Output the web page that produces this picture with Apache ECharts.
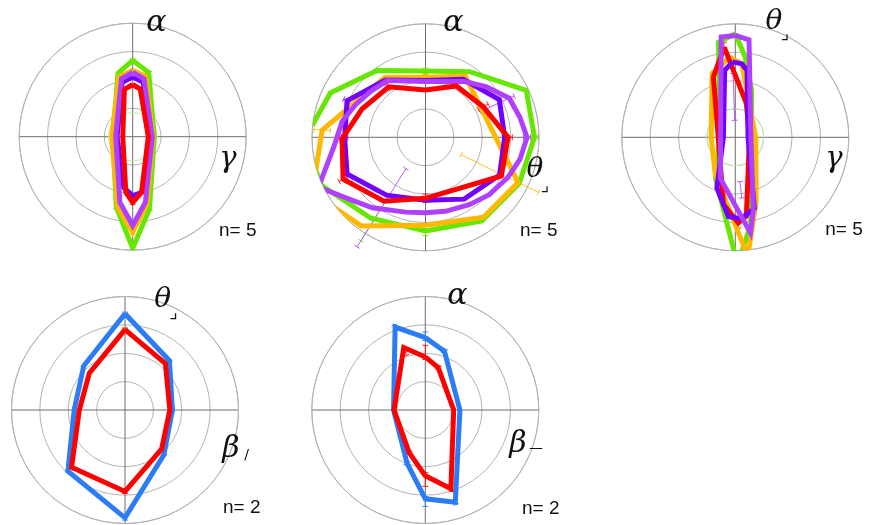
<!DOCTYPE html>
<html>
<head>
<meta charset="utf-8">
<script src="https://cdn.jsdelivr.net/npm/echarts@6/dist/echarts.min.js"></script>
<style>
  html, body { margin: 0; padding: 0; background: #fff; width: 869px; height: 525px; overflow: hidden; }
  .panel { position: absolute; overflow: hidden; }
</style>
</head>
<body>
<div id="p1" class="panel" style="left:0px;top:0px;width:290px;height:252px"></div>
<div id="p2" class="panel" style="left:290px;top:0px;width:290px;height:252px"></div>
<div id="p3" class="panel" style="left:580px;top:0px;width:289px;height:252px"></div>
<div id="p4" class="panel" style="left:0px;top:262px;width:290px;height:263px"></div>
<div id="p5" class="panel" style="left:290px;top:262px;width:290px;height:263px"></div>
<script>
// Tuning curves: each vertex is [direction in degrees (clockwise from the upper axis), response]
// ---- top-left: alpha / gamma, n = 5 ----
const p1Green  = [[0,2.69],[14,2.33],[90,0.76],[167,2.62],[180,3.93],[193,2.56],[270,0.70],[347,2.30]];
const p1Orange = [[0,2.34],[12,2.18],[90,0.72],[168,2.42],[180,3.37],[192,2.55],[270,0.74],[347,2.16]];
const p1Violet = [[0,2.10],[11,1.95],[90,0.60],[170,1.98],[180,2.08],[190,1.82],[270,0.55],[349,1.95]];
const p1Purple = [[0,2.27],[11,2.08],[90,0.69],[169,2.35],[180,3.13],[191,2.36],[270,0.60],[349,2.08]];
const p1Red    = [[0,1.84],[9,1.70],[90,0.55],[171,1.99],[180,2.32],[187,1.98],[270,0.35],[350,1.69]];

// ---- top-middle: alpha / theta, n = 5 (green has no value at 270) ----
const p2Green  = [[276,4.01],[295,3.70],[324,2.91],[0,2.34],[34,2.79],[65,3.92],[90,3.84],[116,3.68],[146,3.55],[180,3.30],[214,3.44],[245,4.03],[258,4.08]];
const p2Orange = [[0,2.12],[33,2.57],[116,3.63],[144,3.48],[180,3.10],[216,3.86],[244,4.44],[274,3.65],[326,2.55]];
const p2Violet = [[0,2.00],[33,2.44],[63,2.92],[90,2.79],[117,2.93],[148,2.57],[180,2.22],[214,2.46],[245,3.05],[270,2.85],[295,3.05],[325,2.46]];
const p2Purple = [[0,1.97],[35,2.40],[50,2.78],[65,3.26],[78,3.40],[90,3.58],[103,3.42],[116,3.23],[132,3.02],[147,2.83],[165,2.70],[180,2.66],[195,2.73],[217,3.11],[232,3.50],[245,4.16],[264,3.25],[281,2.99],[295,2.72],[310,2.52],[326,2.41]];
const p2Red    = [[0,1.67],[31,2.11],[62,2.30],[90,2.91],[117,3.00],[180,2.15],[213,2.69],[243,3.26],[269,2.94],[294,2.45],[324,2.20]];

// ---- top-right: theta / gamma, n = 5 ----
const p3Green  = [[0,3.65],[7,2.85],[19,1.76],[90,0.58],[170,3.12],[179,4.48],[206,1.60],[270,0.55],[350,3.40]];
const p3Orange = [[356,2.83],[5,2.60],[90,0.72],[162,2.38],[174,4.22],[208,1.50],[270,0.85],[340,2.39]];
const p3Red    = [[353,3.20],[18,1.26],[90,0.50],[172,2.80],[178,3.02],[190,2.40],[270,0.60],[340,2.26]];
const p3Violet = [[358,2.66],[5,2.60],[10,2.39],[90,0.45],[165,2.60],[176,2.88],[185,2.80],[200,1.90],[270,0.42],[351,2.39]];
const p3Purple = [[0,3.59],[8,3.47],[90,0.55],[166,2.63],[171,3.41],[200,1.54],[270,0.52],[352,3.57]];

// ---- bottom-left: theta / beta, n = 2 ----
const p4Blue = [[0,3.39],[42,2.34],[90,1.67],[139,2.09],[180,3.80],[223,2.95],[270,1.79],[317,2.13]];
const p4Red  = [[0,2.83],[41,2.17],[90,1.58],[137,1.89],[180,2.87],[223,2.76],[270,1.61],[316,1.81]];

// ---- bottom-middle: alpha / beta, n = 2 ----
const p5Blue = [[0,2.55],[18,2.18],[90,1.22],[162,3.42],[180,3.13],[199,1.98],[270,1.12],[340,3.11]];
const p5Red  = [[0,1.87],[17,1.56],[90,1.00],[162,2.92],[180,2.32],[201,1.60],[270,1.10],[341,2.33]];

// Error bars: [direction, low, high]
const p1GreenErr  = [[0,2.62,2.76],[14,2.27,2.39],[167,2.55,2.69],[193,2.50,2.62]];
const p1OrangeErr = [[180,3.30,3.44],[12,2.12,2.24]];
const p1RedErr    = [[180,2.26,2.38]];
const p2GreenErr  = [[0,2.24,2.44],[324,2.84,2.98],[180,3.12,3.46],[212,2.40,4.30],[90,3.72,3.96]];
const p2OrangeErr = [[116,1.40,4.43],[274,3.36,3.94],[0,2.02,2.22]];
const p2PurpleErr = [[212,1.30,4.55],[65,2.12,3.45],[90,3.45,3.70]];
const p2VioletErr = [[270,2.74,2.96],[295,2.94,3.18]];
const p2RedErr    = [[62,2.10,2.50],[90,2.76,3.06],[243,3.10,3.42],[269,2.84,3.04],[180,2.00,2.30],[324,2.08,2.32]];
const p3PurpleErr = [[358,0.60,2.25],[174,1.57,2.15],[166,1.86,2.43]];
const p3RedErr    = [[353,3.00,3.35],[178,2.85,3.20]];
const p4BlueErr   = [[0,3.33,3.45],[42,2.28,2.40],[90,1.61,1.73],[139,2.03,2.15],[180,3.72,3.88],[223,2.88,3.02],[270,1.73,1.85],[317,2.07,2.19]];
const p4RedErr    = [[0,2.77,2.89],[41,2.11,2.23],[137,1.83,1.95],[180,2.80,2.94],[223,2.70,2.82]];
const p5BlueErr   = [[0,2.45,2.75],[18,2.10,2.26],[162,3.34,3.50],[180,3.05,3.40],[199,1.90,2.06],[340,3.03,3.19]];
const p5RedErr    = [[0,1.78,2.28],[17,1.48,1.64],[162,2.84,3.00],[180,2.20,2.69],[201,1.52,1.68],[341,2.04,2.15]];

// Faint reference circle radius (panels with a baseline ring)
const p1Baseline = 0.85;
const p3Baseline = 1.0;

const GREEN = '#66e600', ORANGE = '#ffb800', VIOLET = '#7300ff', PURPLE = '#b040ff', RED = '#ff0000', BLUE = '#2b7cf6';

function closed(pts) {
  const d = pts.map(([a, r]) => [r, a]);
  d.push(d[0]);
  return d;
}
function open(pts) {
  return pts.map(([a, r]) => [r, a]);
}
function curve(data, color) {
  return {
    type: 'line', coordinateSystem: 'polar', data: data, symbol: 'none', clip: false,
    silent: true, animation: false,
    lineStyle: { color: color, width: 5, join: 'miter', miterLimit: 6 }
  };
}
function errorBars(bars, color) {
  return {
    type: 'custom', coordinateSystem: 'polar', silent: true, animation: false, clip: false,
    data: bars.map(([a, lo, hi]) => [lo, a, hi]),
    renderItem(params, api) {
      const a = api.value(1);
      const p0 = api.coord([api.value(0), a]);
      const p1 = api.coord([api.value(2), a]);
      const dx = p1[0] - p0[0], dy = p1[1] - p0[1];
      const L = Math.hypot(dx, dy) || 1;
      const nx = -dy / L * 3, ny = dx / L * 3;
      const st = { stroke: color, lineWidth: 1, opacity: 0.85 };
      return {
        type: 'group', children: [
          { type: 'line', shape: { x1: p0[0], y1: p0[1], x2: p1[0], y2: p1[1] }, style: st },
          { type: 'line', shape: { x1: p0[0] - nx, y1: p0[1] - ny, x2: p0[0] + nx, y2: p0[1] + ny }, style: st },
          { type: 'line', shape: { x1: p1[0] - nx, y1: p1[1] - ny, x2: p1[0] + nx, y2: p1[1] + ny }, style: st }
        ]
      };
    }
  };
}
function baselineRing(r) {
  return {
    type: 'custom', coordinateSystem: 'polar', silent: true, animation: false, z: 1,
    data: [[r, 0]],
    renderItem(params, api) {
      const c = api.coord([0, 0]);
      const e = api.coord([api.value(0), 0]);
      return {
        type: 'circle',
        shape: { cx: c[0], cy: c[1], r: Math.hypot(e[0] - c[0], e[1] - c[1]) },
        style: { fill: 'none', stroke: '#bdeeab', lineWidth: 1 }
      };
    }
  };
}

const SERIF = '"DejaVu Serif", "Liberation Serif", serif';
function greek(text, x, y, size) {
  return { type: 'text', x: x, y: y, z: 100, style: {
    text: text, fill: '#111', fontSize: size, fontStyle: 'italic', fontFamily: SERIF,
    align: 'center', verticalAlign: 'middle' } };
}
function small(text, x, y, size) {
  return { type: 'text', x: x, y: y, z: 100, style: {
    text: text, fill: '#111', fontSize: size, fontFamily: '"DejaVu Sans", sans-serif',
    align: 'center', verticalAlign: 'middle' } };
}
function count(text, x, y) {
  return { type: 'text', x: x, y: y, z: 100, style: {
    text: text, fill: '#111', fontSize: 19, fontFamily: '"Liberation Sans", Arial, sans-serif',
    align: 'center', verticalAlign: 'middle' } };
}

function panel(id, center, series, labels) {
  const chart = echarts.init(document.getElementById(id), null, { renderer: 'canvas' });
  chart.setOption({
    animation: false,
    polar: { center: center, radius: 113.5 },
    angleAxis: {
      type: 'value', min: 0, max: 360, interval: 90, startAngle: 90, clockwise: true,
      axisLine: { show: true, lineStyle: { color: '#b3b3b3', width: 1 } },
      axisTick: { show: false }, axisLabel: { show: false },
      splitLine: { show: true, lineStyle: { color: '#6e6e6e', width: 1 } }
    },
    radiusAxis: {
      type: 'value', min: 0, max: 4, interval: 1,
      axisLine: { show: false }, axisTick: { show: false }, axisLabel: { show: false },
      splitLine: { show: true, lineStyle: { color: '#b3b3b3', width: 1 } }
    },
    series: series,
    graphic: labels
  });
  return chart;
}

panel('p1', [132.7, 136.7], [
  baselineRing(p1Baseline),
  errorBars(p1GreenErr, GREEN), errorBars(p1OrangeErr, ORANGE), errorBars(p1RedErr, RED),
  curve(closed(p1Green), GREEN),
  curve(closed(p1Orange), ORANGE),
  curve(closed(p1Violet), VIOLET),
  curve(closed(p1Purple), PURPLE),
  curve(closed(p1Red), RED)
], [
  greek('α', 156.5, 23, 30),
  greek('γ', 228, 159, 29),
  count('n= 5', 237.8, 230.5)
]);

panel('p2', [135.5, 137.3], [
  errorBars(p2GreenErr, GREEN), errorBars(p2OrangeErr, ORANGE), errorBars(p2PurpleErr, PURPLE),
  errorBars(p2VioletErr, VIOLET), errorBars(p2RedErr, RED),
  curve(open(p2Green), GREEN),
  curve(closed(p2Orange), ORANGE),
  curve(closed(p2Violet), VIOLET),
  curve(closed(p2Purple), PURPLE),
  curve(closed(p2Red), RED)
], [
  greek('α', 163.5, 23, 30),
  greek('θ', 245, 170, 28),
  small('⌟', 255, 186, 18),
  count('n= 5', 248.8, 230.5)
]);

panel('p3', [155.3, 137.3], [
  baselineRing(p3Baseline),
  errorBars(p3PurpleErr, PURPLE), errorBars(p3RedErr, RED),
  curve(closed(p3Green), GREEN),
  curve(closed(p3Orange), ORANGE),
  curve(closed(p3Red), RED),
  curve(closed(p3Violet), VIOLET),
  curve(closed(p3Purple), PURPLE)
], [
  greek('θ', 194, 22, 28),
  small('⌟', 205, 34, 18),
  greek('γ', 254, 159, 29),
  count('n= 5', 264, 230)
]);

panel('p4', [125, 148], [
  errorBars(p4BlueErr, BLUE), errorBars(p4RedErr, RED),
  curve(closed(p4Blue), BLUE),
  curve(closed(p4Red), RED)
], [
  greek('θ', 162.8, 38, 28),
  small('⌟', 173.5, 51, 18),
  greek('β', 231, 187, 30),
  small('/', 246.5, 193, 14),
  count('n= 2', 241.7, 245.5)
]);

panel('p5', [135.3, 148], [
  errorBars(p5BlueErr, BLUE), errorBars(p5RedErr, RED),
  curve(closed(p5Blue), BLUE),
  curve(closed(p5Red), RED)
], [
  greek('α', 167.5, 34, 30),
  greek('β', 228, 182, 30),
  small('—', 246, 186, 14),
  count('n= 2', 250.8, 246.3)
]);
</script>
</body>
</html>
